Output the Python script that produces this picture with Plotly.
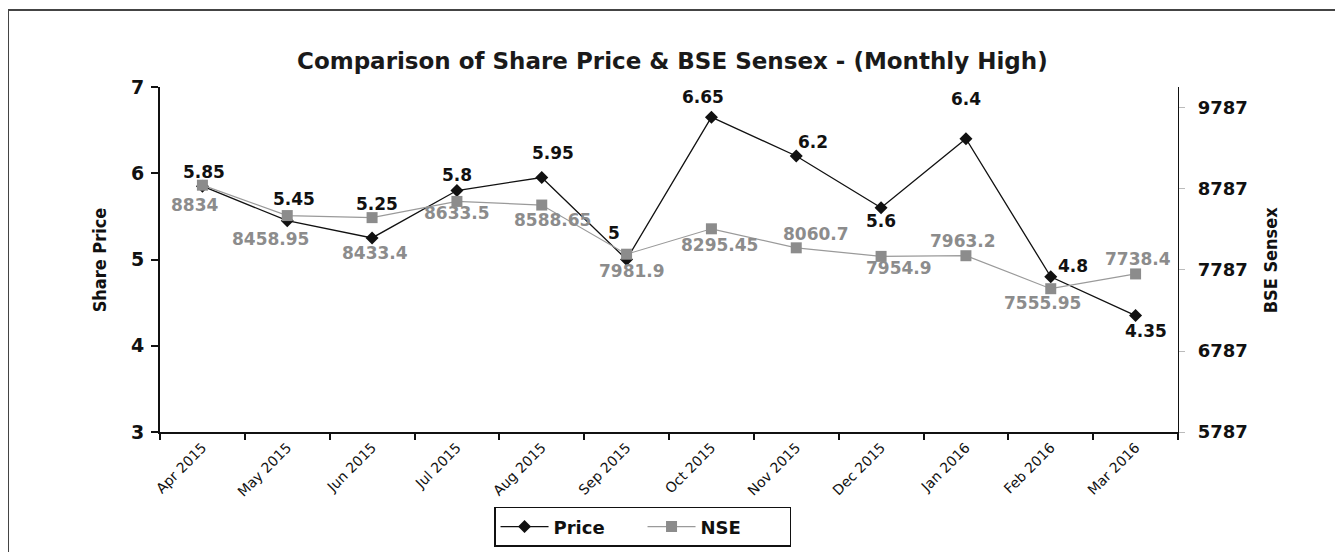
import plotly.graph_objects as go

# ---- data ----
months = ["Apr 2015", "May 2015", "Jun 2015", "Jul 2015", "Aug 2015", "Sep 2015",
          "Oct 2015", "Nov 2015", "Dec 2015", "Jan 2016", "Feb 2016", "Mar 2016"]
price = [5.85, 5.45, 5.25, 5.8, 5.95, 5, 6.65, 6.2, 5.6, 6.4, 4.8, 4.35]
nse = [8834, 8458.95, 8433.4, 8633.5, 8588.65, 7981.9, 8295.45, 8060.7, 7954.9,
       7963.2, 7555.95, 7738.4]
left_ticks = [3, 4, 5, 6, 7]
right_ticks = [5787, 6787, 7787, 8787, 9787]

# ---- label offsets (pixels) ----
price_off = [(2, -14), (7, -22), (5, -34), (0, -16), (11, -25), (-13, -27),
             (-8, -20), (17, -14), (0, 13), (0, -40), (22, -11), (10, 15)]
nse_off = [(-8, 20), (-17, 23), (3, 35), (0, 12), (11, 15), (5, 17),
           (8, 16), (20, -14), (18, 12), (-3, -15), (-8, 14), (2, -15)]

BOLD = "DejaVu Sans"
NARROW = "DejaVu Sans Condensed, Liberation Sans"
GREY = "#8c8c8c"

fig = go.Figure()
fig.add_trace(go.Scatter(
    x=months, y=price, name="Price", mode="lines+markers",
    line=dict(color="#111111", width=1.3),
    marker=dict(symbol="diamond", size=10, color="#111111"),
    yaxis="y"))
fig.add_trace(go.Scatter(
    x=months, y=nse, name="NSE", mode="lines+markers",
    line=dict(color="#9a9a9a", width=1.2),
    marker=dict(symbol="square", size=11, color=GREY),
    yaxis="y2"))

ann = []
for m, v, (dx, dy) in zip(months, price, price_off):
    ann.append(dict(x=m, y=v, xref="x", yref="y", text=f"{v:g}", showarrow=False,
                    xshift=dx, yshift=-dy,
                    font=dict(family=BOLD, size=17, color="#111111", weight="bold")))
for m, v, (dx, dy) in zip(months, nse, nse_off):
    ann.append(dict(x=m, y=v, xref="x", yref="y2", text=f"{v:g}", showarrow=False,
                    xshift=dx, yshift=-dy,
                    font=dict(family=BOLD, size=17, color=GREY, weight="bold")))

ann.append(dict(x=0.503, y=1.119, xref="paper", yref="paper", showarrow=False,
                text="Comparison of Share Price & BSE Sensex - (Monthly High)",
                font=dict(family=BOLD, size=23, color="#1a1a1a", weight="bold")))
ann.append(dict(x=-0.0717, y=0.499, xref="paper", yref="paper", showarrow=False,
                text="Share Price", textangle=-90,
                font=dict(family=NARROW, size=18, color="#111111", weight="bold")))
ann.append(dict(x=1.1031, y=0.499, xref="paper", yref="paper", showarrow=False,
                text="BSE Sensex", textangle=-90,
                font=dict(family=NARROW, size=18, color="#111111", weight="bold")))

# the page body adds an 8px offset, so the margins are shifted by 8px
fig.update_layout(
    width=1343, height=552,
    margin=dict(l=152, r=173, t=79, b=128, autoexpand=False),
    paper_bgcolor="white", plot_bgcolor="white",
    annotations=ann,
    showlegend=True,
    legend=dict(orientation="h", x=0.474, y=-0.275, xanchor="center", yanchor="middle",
                bordercolor="#111111", borderwidth=1.5, bgcolor="white",
                font=dict(family=BOLD, size=18, color="#111111", weight="bold"),
                itemwidth=48, entrywidth=84, tracegroupgap=0),
    xaxis=dict(type="category", tickson="boundaries", showgrid=False, automargin=False,
               showline=True, linecolor="#111111", linewidth=2,
               ticks="outside", ticklen=6, tickcolor="#111111", tickwidth=1.5,
               tickangle=-45, tickfont=dict(family="DejaVu Sans", size=14, color="#111111"),
               range=[-0.5, 11.5]),
    yaxis=dict(range=[3, 7], tickvals=left_ticks, showgrid=False, zeroline=False,
               automargin=False,
               showline=True, linecolor="#111111", linewidth=2,
               ticks="outside", ticklen=7, tickcolor="#111111", tickwidth=1.5,
               ticklabelstandoff=3,
               tickfont=dict(family=BOLD, size=19, color="#111111", weight="bold")),
    yaxis2=dict(range=[5787, 10046], tickvals=right_ticks, tickformat="d",
                overlaying="y", side="right", automargin=False,
                showgrid=False, zeroline=False,
                showline=True, linecolor="#111111", linewidth=1.2,
                ticks="outside", ticklen=6, tickcolor="#bbbbbb", tickwidth=1,
                ticklabelstandoff=9,
                tickfont=dict(family=BOLD, size=18, color="#111111", weight="bold")),
    shapes=[dict(type="rect", xref="paper", yref="paper",
                 x0=-0.1493, x1=1.1572, y0=-0.40, y1=1.2232,
                 line=dict(color="#444444", width=2), fillcolor="rgba(0,0,0,0)",
                 layer="below")],
)

fig.write_html("out.html")
